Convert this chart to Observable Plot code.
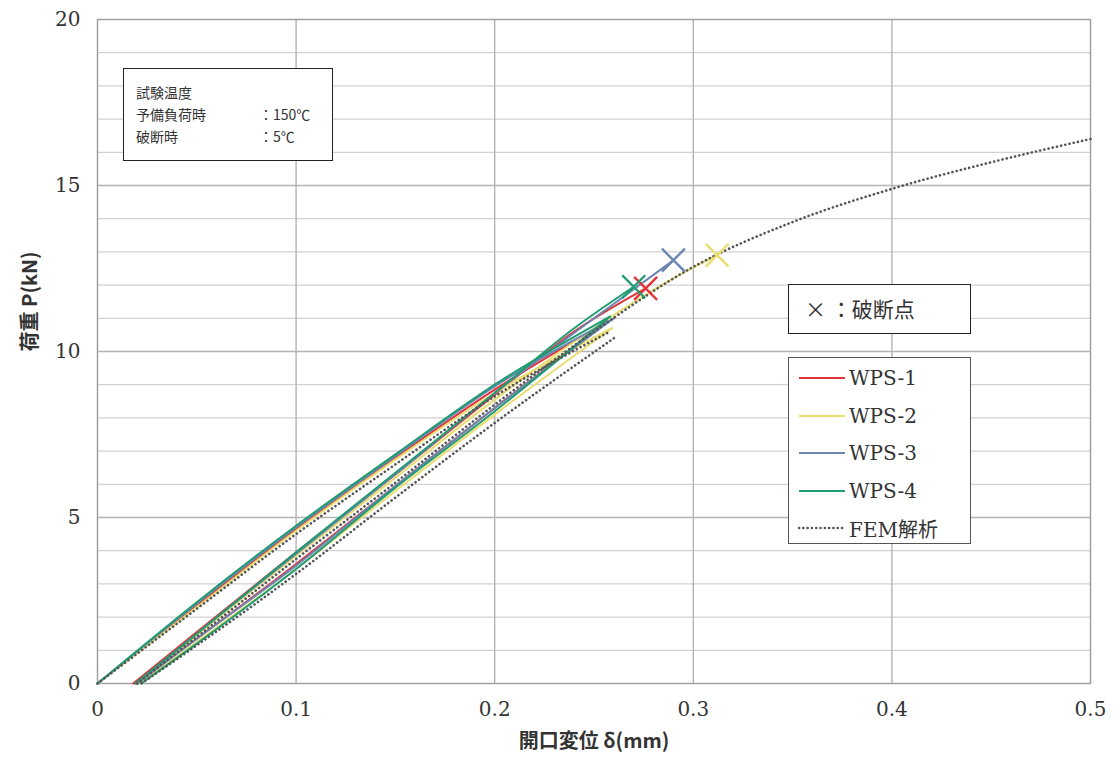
<!DOCTYPE html>
<html>
<head>
<meta charset="utf-8">
<script src="https://cdn.jsdelivr.net/npm/d3@7"></script>
<script src="https://cdn.jsdelivr.net/npm/@observablehq/plot@0.6"></script>
<style>
  html, body { margin: 0; padding: 0; background: #fff; }
  #wrap { position: relative; width: 1118px; height: 771px; overflow: hidden; }
  #wrap svg { display: block; }
  .box { position: absolute; box-sizing: border-box; background: #fff; }
  .cond { font-family: "Noto Sans CJK JP", sans-serif; font-size: 14px; color: #333; line-height: 22px; }
  .cond span.c { position: absolute; left: 123px; }
  .legrow { position: absolute; left: 0; height: 24px; display: flex; align-items: center; }
  .legrow .lab { font-family: "DejaVu Serif", serif; font-size: 20px; color: #333; margin-left: 3px; }
  .legrow .lab.jp { font-family: "DejaVu Serif", "Noto Sans CJK JP", serif; }
</style>
</head>
<body>
<div id="wrap"></div>
<script>
// ---- data ----
const specimens = ["WPS-1", "WPS-2", "WPS-3", "WPS-4"];
const colors = ["#e3343c", "#e9dd6e", "#6b86b2", "#1f9c72"];
const femLabel = "FEM解析";

// preload at 150°C : loading from the origin
const load1D = [0, 0.05, 0.10, 0.15, 0.20, 0.257];
const load1P = [0, 2.35, 4.65, 6.80, 8.85, 10.90];
const load2D = [0, 0.05, 0.10, 0.15, 0.20, 0.259];
const load2P = [0, 2.30, 4.60, 6.75, 8.75, 10.70];
const load3D = [0, 0.05, 0.10, 0.15, 0.20, 0.260];
const load3P = [0, 2.40, 4.70, 6.85, 8.95, 11.00];
const load4D = [0, 0.05, 0.10, 0.15, 0.20, 0.258];
const load4P = [0, 2.45, 4.75, 6.90, 9.00, 11.05];

// unloading
const unload1D = [0.257, 0.20, 0.15, 0.10, 0.05, 0.019];
const unload1P = [10.90, 8.30, 5.95, 3.60, 1.35, 0];
const unload2D = [0.259, 0.20, 0.15, 0.10, 0.05, 0.021];
const unload2P = [10.70, 8.10, 5.80, 3.45, 1.25, 0];
const unload3D = [0.260, 0.20, 0.15, 0.10, 0.05, 0.020];
const unload3P = [11.00, 8.30, 5.95, 3.55, 1.35, 0];
const unload4D = [0.258, 0.20, 0.15, 0.10, 0.05, 0.022];
const unload4P = [11.05, 8.20, 5.90, 3.45, 1.20, 0];

// reloading at 5°C up to fracture
const reload1D = [0.018, 0.05, 0.10, 0.15, 0.20, 0.24, 0.276];
const reload1P = [0, 1.55, 3.95, 6.30, 8.70, 10.60, 11.90];
const reload2D = [0.021, 0.05, 0.10, 0.15, 0.20, 0.25, 0.29, 0.312];
const reload2P = [0, 1.45, 3.85, 6.20, 8.55, 10.70, 12.20, 12.90];
const reload3D = [0.020, 0.05, 0.10, 0.15, 0.20, 0.25, 0.290];
const reload3P = [0, 1.50, 3.90, 6.30, 8.75, 11.00, 12.75];
const reload4D = [0.019, 0.05, 0.10, 0.15, 0.20, 0.24, 0.270];
const reload4P = [0, 1.50, 3.95, 6.35, 8.75, 10.70, 11.95];

// FEM analysis
const femLoadD = [0, 0.05, 0.10, 0.15, 0.20, 0.258];
const femLoadP = [0, 2.25, 4.50, 6.60, 8.65, 10.60];
const femUnloadD = [0.260, 0.20, 0.15, 0.10, 0.05, 0.022];
const femUnloadP = [10.40, 7.85, 5.60, 3.30, 1.15, 0];
const femReloadD = [0.020, 0.05, 0.10, 0.15, 0.20, 0.25, 0.30, 0.35, 0.40, 0.45, 0.50];
const femReloadP = [0, 1.40, 3.75, 6.05, 8.40, 10.60, 12.55, 13.90, 14.90, 15.70, 16.40];

// fracture points (×)
const fracD = [0.276, 0.312, 0.290, 0.270];
const fracP = [11.90, 12.90, 12.75, 11.95];

// axis ticks
const xTicks = [0, 0.1, 0.2, 0.3, 0.4, 0.5];
const yTicks = [0, 5, 10, 15, 20];
const xTickLabels = ["0", "0.1", "0.2", "0.3", "0.4", "0.5"];
const xLabel = "開口変位 δ(mm)";
const yLabel = "荷重 P(kN)";
const condLines = [["試験温度", ""], ["予備負荷時", "：150℃"], ["破断時", "：5℃"]];
const fractureLegend = "× ：破断点";

// ---- build tables ----
const curves = [
  [specimens[0], "load", load1D, load1P], [specimens[0], "unload", unload1D, unload1P], [specimens[0], "reload", reload1D, reload1P],
  [specimens[1], "load", load2D, load2P], [specimens[1], "unload", unload2D, unload2P], [specimens[1], "reload", reload2D, reload2P],
  [specimens[2], "load", load3D, load3P], [specimens[2], "unload", unload3D, unload3P], [specimens[2], "reload", reload3D, reload3P],
  [specimens[3], "load", load4D, load4P], [specimens[3], "unload", unload4D, unload4P], [specimens[3], "reload", reload4D, reload4P]
];
const rows = curves.flatMap(([s, ph, D, P]) => D.map((d, i) => ({s, key: s + ph, d, p: P[i]})));
const femCurves = [["load", femLoadD, femLoadP], ["unload", femUnloadD, femUnloadP], ["reload", femReloadD, femReloadP]];
const femRows = femCurves.flatMap(([ph, D, P]) => D.map((d, i) => ({key: ph, d, p: P[i]})));
const fracRows = specimens.map((s, i) => ({s, d: fracD[i], p: fracP[i]}));

const chart = Plot.plot({
  width: 1118,
  height: 771,
  marginLeft: 97,
  marginRight: 28,
  marginTop: 19,
  marginBottom: 88,
  style: {fontFamily: "DejaVu Serif, serif", fontSize: "20px", color: "#333", background: "#fff"},
  x: {domain: [0, 0.5]},
  y: {domain: [0, 20]},
  color: {domain: specimens, range: colors},
  marks: [
    Plot.gridY(d3.range(1, 20), {stroke: "#d2d2d2", strokeOpacity: 1, strokeWidth: 1.2}),
    Plot.gridY([5, 10, 15], {stroke: "#b4b4b4", strokeOpacity: 1, strokeWidth: 1.4}),
    Plot.gridX([0.1, 0.2, 0.3, 0.4], {stroke: "#b4b4b4", strokeOpacity: 1, strokeWidth: 1.4}),
    Plot.frame({stroke: "#a0a0a0", strokeWidth: 1.5}),
    Plot.axisX({ticks: xTicks, tickSize: 0, tickPadding: 18, tickFormat: (d, i) => xTickLabels[i], label: null}),
    Plot.axisY({ticks: yTicks, tickSize: 0, tickPadding: 17, label: null}),
    Plot.line(rows, {x: "d", y: "p", z: "key", stroke: "s", strokeWidth: 2, curve: "monotone-x"}),
    Plot.line(femRows, {x: "d", y: "p", z: "key", stroke: "#555", strokeWidth: 2.6, strokeDasharray: "0.1 4.2", strokeLinecap: "round", curve: "monotone-x"}),
    Plot.dot(fracRows, {x: "d", y: "p", stroke: "s", symbol: "times", r: 10.5, strokeWidth: 2.4}),
    Plot.text([xLabel], {frameAnchor: "bottom", dy: 64, fontFamily: "Noto Sans CJK JP, sans-serif", fontSize: 20, fontWeight: "bold", fill: "#333"}),
    Plot.text([yLabel], {frameAnchor: "left", dx: -67, rotate: -90, fontFamily: "Noto Sans CJK JP, sans-serif", fontSize: 20, fontWeight: "bold", fill: "#333"})
  ]
});

const wrap = document.getElementById("wrap");
wrap.appendChild(chart);

// condition box (top-left)
const cond = document.createElement("div");
cond.className = "box cond";
Object.assign(cond.style, {left: "123px", top: "68px", width: "210px", height: "93px", border: "1.5px solid #222", padding: "12px 0 0 12px"});
condLines.forEach(([a, b]) => {
  const row = document.createElement("div");
  row.style.position = "relative";
  row.textContent = a;
  if (b) { const c = document.createElement("span"); c.className = "c"; c.textContent = b; row.appendChild(c); }
  cond.appendChild(row);
});
wrap.appendChild(cond);

// fracture legend box
const fl = document.createElement("div");
fl.className = "box";
Object.assign(fl.style, {left: "788px", top: "284px", width: "183px", height: "50px", border: "1.5px solid #222",
  fontFamily: "Noto Sans CJK JP, sans-serif", fontSize: "21px", color: "#333", lineHeight: "47px", paddingLeft: "16px"});
fl.textContent = fractureLegend;
wrap.appendChild(fl);

// series legend box
const lg = document.createElement("div");
lg.className = "box";
Object.assign(lg.style, {left: "788px", top: "357px", width: "183px", height: "187px", border: "1.2px solid #555"});
const entries = specimens.map((s, i) => ({label: s, color: colors[i], dash: null})).concat([{label: femLabel, color: "#555", dash: "0.1 4.2"}]);
entries.forEach((e, i) => {
  const row = document.createElement("div");
  row.className = "legrow";
  row.style.top = (8 + i * 37.5) + "px";
  row.style.left = "9px";
  const svg = d3.create("svg").attr("width", 48).attr("height", 10);
  svg.append("line").attr("x1", 1).attr("x2", 47).attr("y1", 5).attr("y2", 5)
    .attr("stroke", e.color).attr("stroke-width", e.dash ? 2.6 : 2.2)
    .attr("stroke-dasharray", e.dash).attr("stroke-linecap", e.dash ? "round" : "butt");
  row.appendChild(svg.node());
  const lab = document.createElement("span");
  lab.className = "lab" + (e.dash ? " jp" : "");
  lab.textContent = e.label;
  row.appendChild(lab);
  lg.appendChild(row);
});
wrap.appendChild(lg);
</script>
</body>
</html>
